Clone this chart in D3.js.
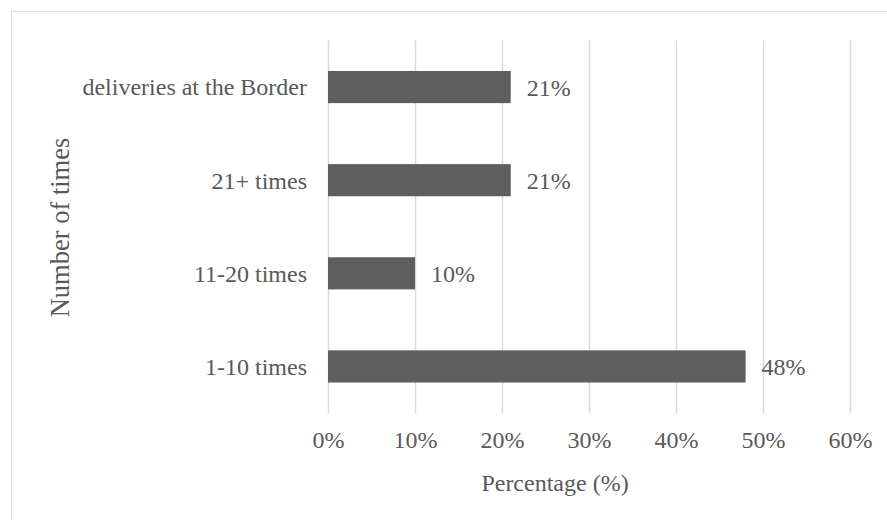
<!DOCTYPE html>
<html>
<head>
<meta charset="utf-8">
<script src="https://cdn.jsdelivr.net/npm/d3@7"></script>
<style>
  body { margin: 0; background: #fff; }
  text { font-family: "Liberation Serif", "Times New Roman", serif; fill: #595959; }
</style>
</head>
<body>
<div id="viz"></div>
<script>
var categories = ["deliveries at the Border", "21+ times", "11-20 times", "1-10 times"];
var values = [21, 21, 10, 48];
var tickValues = [0, 10, 20, 30, 40, 50, 60];

var W = 887, H = 520;
var margin = {top: 40.5, left: 328, right: 37, bottom: 107};
var width = W - margin.left - margin.right,
    height = 413 - margin.top;

var svg = d3.select("#viz").append("svg").attr("width", W).attr("height", H);

// chart frame (runs off the picture at right and bottom)
svg.append("rect")
    .attr("x", 11.5).attr("y", 11.5)
    .attr("width", 1060).attr("height", 520)
    .style("fill", "none").style("stroke", "#d9d9d9");

var x = d3.scaleLinear().domain([0, 60]).range([0, width]);
var y = d3.scaleBand().domain(categories).range([0, height]).paddingInner(0.655).paddingOuter(0.3275);

var g = svg.append("g").attr("transform", "translate(" + margin.left + "," + margin.top + ")");

// gridlines
g.selectAll(".grid").data(tickValues).enter().append("line")
    .attr("x1", function(d) { return Math.round(x(d)) + 0.5; })
    .attr("x2", function(d) { return Math.round(x(d)) + 0.5; })
    .attr("y1", 0).attr("y2", height)
    .style("stroke", "#d9d9d9").style("stroke-width", 1.5);

// bars
g.selectAll(".bar").data(values).enter().append("rect")
    .attr("x", x(0))
    .attr("y", function(d, i) { return y(categories[i]); })
    .attr("width", function(d) { return x(d) - x(0); })
    .attr("height", y.bandwidth())
    .style("fill", "#5e5e5e");

// value labels
g.selectAll(".val").data(values).enter().append("text")
    .attr("x", function(d) { return x(d) + 16; })
    .attr("y", function(d, i) { return y(categories[i]) + y.bandwidth() / 2 + 9; })
    .style("font-size", "24px")
    .text(function(d) { return d + "%"; });

// category labels
var yAxis = g.append("g").call(d3.axisLeft(y).tickSize(0).tickPadding(21));
yAxis.select(".domain").remove();
yAxis.selectAll("text").attr("dy", "0.35em").style("font-size", "24px").style("font-family", "Liberation Serif").style("fill", "#595959");

// x tick labels
var xAxis = g.append("g").attr("transform", "translate(0," + height + ")")
    .call(d3.axisBottom(x).tickValues(tickValues).tickSize(0).tickPadding(18).tickFormat(function(d) { return d + "%"; }));
xAxis.select(".domain").remove();
xAxis.selectAll("text").style("font-size", "24px").style("font-family", "Liberation Serif").style("fill", "#595959");

// axis titles
svg.append("text")
    .attr("x", 555).attr("y", 491)
    .attr("text-anchor", "middle")
    .style("font-size", "24px")
    .text("Percentage (%)");

svg.append("text")
    .attr("transform", "translate(69,227.5) rotate(-90)")
    .attr("text-anchor", "middle")
    .style("font-size", "26.5px")
    .text("Number of times");
</script>
</body>
</html>
